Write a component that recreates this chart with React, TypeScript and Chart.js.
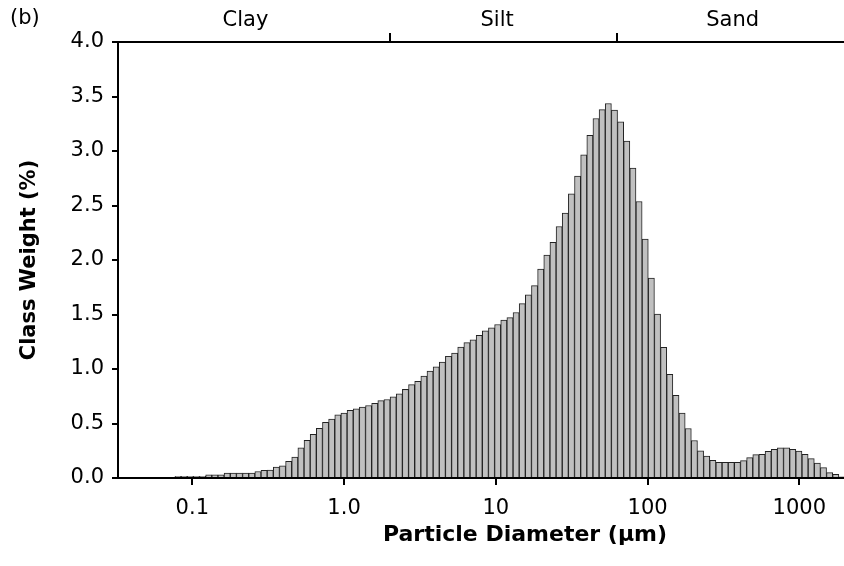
import React, { useEffect, useRef } from 'react';
import { Chart, registerables } from 'chart.js';

Chart.register(...registerables);

// Channel mid-point diameters (µm)
const diameters = [
  0.04191, 0.04601, 0.0505, 0.05544, 0.06085, 0.0668, 0.07333, 0.0805, 0.08836, 0.09703,
  0.1065, 0.1169, 0.1283, 0.1409, 0.1546, 0.1698, 0.1864, 0.2046, 0.2246, 0.2466,
  0.2707, 0.2972, 0.3262, 0.3581, 0.3931, 0.4315, 0.4737, 0.52, 0.5708, 0.6266,
  0.6879, 0.7551, 0.8289, 0.91, 0.9991, 1.097, 1.204, 1.322, 1.451, 1.593,
  1.749, 1.92, 2.107, 2.313, 2.539, 2.788, 3.06, 3.359, 3.688, 4.048,
  4.444, 4.878, 5.355, 5.878, 6.453, 7.083, 7.776, 8.536, 9.37, 10.29,
  11.29, 12.4, 13.61, 14.94, 16.4, 18.0, 19.76, 21.7, 23.82, 26.15,
  28.7, 31.51, 34.59, 37.97, 41.68, 45.75, 50.23, 55.14, 60.53, 66.44,
  72.94, 80.07, 87.89, 96.51, 105.9, 116.3, 127.7, 140.1, 153.8, 168.9,
  185.4, 203.5, 223.4, 245.3, 269.2, 295.6, 324.4, 356.2, 391.0, 429.2,
  471.2, 517.3, 567.8, 623.4, 684.3, 751.2, 824.6, 905.3, 993.8, 1091,
  1198, 1315, 1443, 1584, 1739, 1909,
];

// Class weight (%)
const classWeight = [
  0, 0, 0, 0, 0, 0, 0,
  0.015, 0.015, 0.015, 0.015, 0.015,
  0.03, 0.03, 0.03,
  0.045, 0.045, 0.045, 0.045, 0.045,
  0.06, 0.07, 0.072, 0.1, 0.112, 0.152, 0.192, 0.276, 0.345, 0.4,
  0.455, 0.51, 0.54, 0.58, 0.595, 0.62, 0.635, 0.65, 0.665, 0.684,
  0.71, 0.72, 0.745, 0.773, 0.813, 0.856, 0.887, 0.936, 0.98, 1.02,
  1.064, 1.117, 1.147, 1.2, 1.242, 1.267, 1.31, 1.35, 1.377, 1.408,
  1.448, 1.472, 1.518, 1.6, 1.68, 1.765, 1.917, 2.046, 2.163, 2.307,
  2.43, 2.607, 2.77, 2.966, 3.144, 3.298, 3.38, 3.436, 3.375, 3.267,
  3.09, 2.844, 2.537, 2.193, 1.834, 1.503, 1.198, 0.952, 0.758, 0.595,
  0.454, 0.344, 0.25, 0.202, 0.163, 0.144, 0.144, 0.144, 0.144, 0.16,
  0.187, 0.215, 0.218, 0.245, 0.264, 0.276, 0.276, 0.264, 0.248, 0.218,
  0.178, 0.138, 0.095, 0.049, 0.034, 0.01,
];

const xTickValues = [0.1, 1, 10, 100, 1000];
const xTickLabels = ['0.1', '1.0', '10', '100', '1000'];
const yTickValues = [0, 0.5, 1, 1.5, 2, 2.5, 3, 3.5, 4];
const yTickLabels = ['0.0', '0.5', '1.0', '1.5', '2.0', '2.5', '3.0', '3.5', '4.0'];
const classBoundaries = [2, 63];
const classNames = ['Clay', 'Silt', 'Sand'];
const classNamePositions = [0.224, 10.2, 364];
const xMin = 0.032385;
const xMax = 7489;

const FONT = '"DejaVu Sans", sans-serif';

export default function App() {
  const ref = useRef<HTMLCanvasElement>(null);

  useEffect(() => {
    const topTicks = [
      ...classNamePositions.map((v, i) => ({ value: v, label: classNames[i] })),
      ...classBoundaries.map((v) => ({ value: v, label: '' })),
    ].sort((a, b) => a.value - b.value);

    const panelLabel = {
      id: 'panelLabel',
      afterDraw(chart: any) {
        const ctx = chart.ctx;
        ctx.save();
        ctx.font = `21px ${FONT}`;
        ctx.fillStyle = '#000';
        ctx.textBaseline = 'middle';
        ctx.textAlign = 'left';
        ctx.fillText('(b)', 10, 19);
        ctx.restore();
      },
    };

    const chart = new Chart(ref.current as HTMLCanvasElement, {
      type: 'bar',
      data: {
        datasets: [
          {
            data: diameters.map((d, i) => ({ x: d, y: classWeight[i] })),
            xAxisID: 'x',
            yAxisID: 'y',
            backgroundColor: '#c0c0c0',
            borderColor: '#222222',
            borderWidth: 1,
            borderSkipped: 'start',
            barPercentage: 1,
            categoryPercentage: 1,
            barThickness: 'flex',
          } as any,
        ],
      },
      options: {
        responsive: false,
        maintainAspectRatio: false,
        animation: false,
        devicePixelRatio: 1,
        layout: { padding: 0 },
        plugins: {
          legend: { display: false },
          tooltip: { enabled: false },
          title: { display: false },
        },
        scales: {
          x: {
            type: 'logarithmic',
            position: 'bottom',
            min: xMin,
            max: xMax,
            bounds: 'data',
            offset: false,
            grid: {
              offset: false,
              drawOnChartArea: false,
              drawTicks: true,
              tickLength: 7,
              lineWidth: 2,
              color: '#000',
            },
            border: { display: true, color: '#000', width: 2 },
            ticks: {
              autoSkip: false,
              maxRotation: 0,
              padding: 11,
              color: '#000',
              font: { family: FONT, size: 21 },
              callback: (_v: any, i: number) => xTickLabels[i],
            },
            afterBuildTicks: (s: any) => {
              s.ticks = xTickValues.map((v) => ({ value: v }));
            },
            afterFit: (s: any) => {
              s.height = 88;
            },
            title: {
              display: true,
              text: 'Particle Diameter (µm)',
              color: '#000',
              font: { family: FONT, size: 22, weight: 'bold' },
              padding: { top: 0, bottom: 18 },
            },
          },
          x2: {
            type: 'logarithmic',
            axis: 'x',
            position: 'top',
            min: xMin,
            max: xMax,
            bounds: 'data',
            offset: false,
            grid: {
              offset: false,
              drawOnChartArea: false,
              drawTicks: true,
              tickLength: 9,
              lineWidth: 2,
              color: '#000',
              tickColor: (ctx: any) =>
                ctx.tick && classBoundaries.includes(ctx.tick.value) ? '#000' : 'rgba(0,0,0,0)',
            },
            border: { display: true, color: '#000', width: 2 },
            ticks: {
              autoSkip: false,
              maxRotation: 0,
              padding: 0,
              color: '#000',
              font: { family: FONT, size: 21 },
              callback: (_v: any, i: number) => topTicks[i].label,
            },
            afterBuildTicks: (s: any) => {
              s.ticks = topTicks.map((t) => ({ value: t.value }));
            },
            afterFit: (s: any) => {
              s.height = 42;
            },
          },
          y: {
            type: 'linear',
            position: 'left',
            min: 0,
            max: 4,
            grid: {
              drawOnChartArea: false,
              drawTicks: true,
              tickLength: 6,
              lineWidth: 2,
              color: '#000',
            },
            border: { display: true, color: '#000', width: 2 },
            ticks: {
              padding: 8,
              color: '#000',
              font: { family: FONT, size: 21 },
              callback: (_v: any, i: number) => yTickLabels[i],
            },
            afterBuildTicks: (s: any) => {
              s.ticks = yTickValues.map((v) => ({ value: v }));
            },
            afterFit: (s: any) => {
              s.width = 118;
            },
            title: {
              display: true,
              text: 'Class Weight (%)',
              color: '#000',
              font: { family: FONT, size: 21, weight: 'bold' },
              padding: { top: 17, bottom: 0 },
            },
          },
        },
      } as any,
      plugins: [panelLabel],
    });

    return () => chart.destroy();
  }, []);

  return (
    <div
      style={{
        position: 'absolute',
        left: 0,
        top: 0,
        width: 844,
        height: 566,
        overflow: 'hidden',
        background: '#fff',
      }}
    >
      <canvas ref={ref} width={932} height={566} style={{ display: 'block', width: 932, height: 566 }} />
    </div>
  );
}
